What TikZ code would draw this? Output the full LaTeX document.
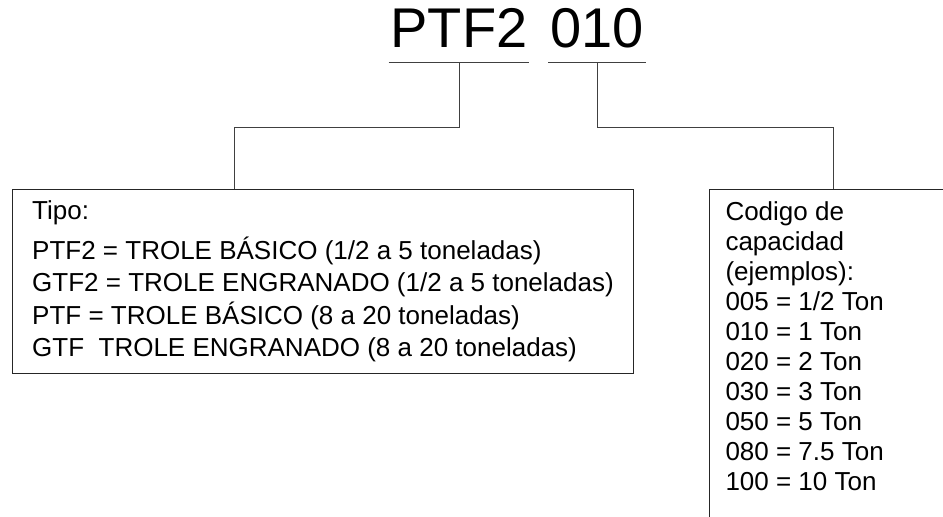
\documentclass[tikz,border=0pt]{standalone}
\usepackage{fontspec}
\setmainfont{Liberation Sans}
\usetikzlibrary{positioning}

\tikzset{every picture/.style={line width=0.75pt}}
\tikzset{
  codetxt/.style={font=\fontsize{42}{42}\selectfont, anchor=south, text depth=0pt, inner xsep=1pt, inner ysep=11pt},
  infobox/.style={align=left, anchor=north west, inner xsep=12pt},
  boxline/.style={draw=black!85},
  link/.style={draw=black!75},
}

\begin{document}
\begin{tikzpicture}[x=0.75pt,y=0.75pt,yscale=-1,xscale=1]
\clip (0,0) rectangle (943,517);

% Code parts
\node[codetxt] (tipo) at (459,63) {PTF2};
\node[codetxt] (cap) at (597,63) {010};
\draw[link] (tipo.south west) -- (tipo.south east);
\draw[link] (cap.south west) -- (cap.south east);

% Boxes
\node[infobox, boxline, font=\fontsize{19.5}{24}\selectfont, minimum width=465.75pt, minimum height=138pt] (tipobox) at (12,189) {Tipo:\\[6pt]
PTF2 = TROLE BÁSICO (1/2 a 5 toneladas)\\
GTF2 = TROLE ENGRANADO (1/2 a 5 toneladas)\\[1pt]
PTF = TROLE BÁSICO (8 a 20 toneladas)\\
GTF~ TROLE ENGRANADO (8 a 20 toneladas)};
\node[infobox, font=\fontsize{19.5}{22.5}\selectfont, inner ysep=9pt] (capbox) at (709,189) {Codigo de\\
capacidad\\
(ejemplos):\\
005 = 1/2 Ton\\
010 = 1 Ton\\
020 = 2 Ton\\
030 = 3 Ton\\
050 = 5 Ton\\
080 = 7.5 Ton\\
100 = 10 Ton};
% box runs off the page
\draw[boxline] (capbox.north west) ++(300,0) -- (capbox.north west) -- ++(0,400);

% Connectors
\coordinate (tipoknee) at (234,128);
\coordinate (capknee) at (833,128);
\draw[link] (tipo.south) |- (tipoknee) -- (tipoknee |- tipobox.north);
\draw[link] (cap.south) |- (capknee) -- (capknee |- capbox.north);

\end{tikzpicture}
\end{document}
